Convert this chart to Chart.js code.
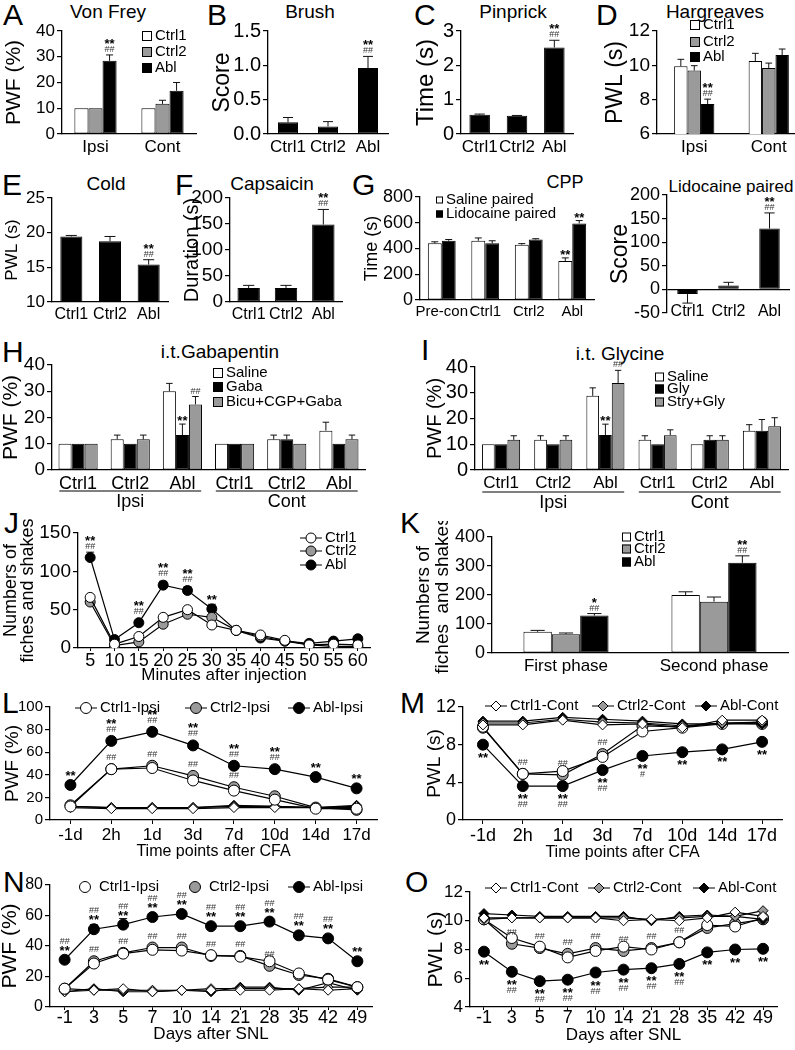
<!DOCTYPE html>
<html>
<head>
<meta charset="utf-8">
<script src="https://cdn.jsdelivr.net/npm/chart.js@4.4.1/dist/chart.umd.min.js"></script>
<style>
  html, body { margin: 0; padding: 0; background: #fff; }
  #fig { position: relative; width: 795px; height: 1050px; overflow: hidden; background: #fff;
         font-family: 'Liberation Sans', Arial, sans-serif; color: #000; }
  #fig canvas { position: absolute; }
  #fig .t { position: absolute; white-space: nowrap; line-height: 1; }
</style>
</head>
<body>
<div id="fig"></div>
<script>
// ---------- data ----------
const sideCats = ['Ipsi', 'Cont'];
const grpCats = ['Ctrl1', 'Ctrl2', 'Abl'];
const S2 = ['**', '##'];

// A Von Frey
const vfCtrl1 = [10, 10], vfCtrl1Err = [0, 0];
const vfCtrl2 = [10, 11.7], vfCtrl2Err = [0, 1.4];
const vfAbl = [28.4, 16.8], vfAblErr = [2.3, 3.2];
const vfAblNotes = [S2, null];

// B Brush
const brushVals = [0.17, 0.11, 0.96], brushErr = [0.07, 0.07, 0.17];
const brushNotes = [null, null, S2];

// C Pinprick
const pinVals = [0.56, 0.53, 2.52], pinErr = [0.02, 0.01, 0.21];
const pinNotes = [null, null, S2];

// D Hargreaves
const hgCtrl1 = [9.95, 10.25], hgCtrl1Err = [0.4, 0.45];
const hgCtrl2 = [9.7, 9.85], hgCtrl2Err = [0.28, 0.28];
const hgAbl = [7.75, 10.6], hgAblErr = [0.28, 0.35];
const hgAblNotes = [S2, null];

// E Cold
const coldVals = [19.45, 18.75, 15.4], coldErr = [0.15, 0.7, 0.7];
const coldNotes = [null, null, S2];

// F Capsaicin
const capVals = [27, 27, 149], capErr = [5, 5, 29];
const capNotes = [null, null, S2];

// G CPP
const cppCats = ['Pre-con', 'Ctrl1', 'Ctrl2', 'Abl'];
const cppSaline = [440, 460, 430, 303], cppSalineErr = [12, 22, 8, 24];
const cppLido = [460, 440, 470, 595], cppLidoErr = [10, 20, 6, 22];
const cppSalineNotes = [null, null, null, ['**']];
const cppLidoNotes = [null, null, null, ['**']];

// Lidocaine paired score
const lidoScore = [-10, 8, 129], lidoErr = [19, 7, 33];
const lidoNotes = [null, null, S2];

// H i.t. Gabapentin
const hCats = ['Ctrl1', 'Ctrl2', 'Abl', 'Ctrl1', 'Ctrl2', 'Abl'];
const gabSaline = [10, 11.7, 30, 10, 11.7, 15], gabSalineErr = [0, 1.6, 3, 0, 1.6, 3.2];
const gabGaba = [10, 10, 13.3, 10, 11.7, 10], gabGabaErr = [0, 0, 4.2, 0, 1.6, 0];
const gabBicu = [10, 11.7, 25, 10, 10, 11.7], gabBicuErr = [0, 1.6, 3, 0, 0, 1.6];
const gabGabaNotes = [null, null, ['**'], null, null, null];
const gabBicuNotes = [null, null, ['##'], null, null, null];

// I i.t. Glycine
const glySaline = [10, 11.7, 28.8, 11.7, 10, 15.2], glySalineErr = [0, 1.6, 3.1, 1.6, 0, 2.4];
const glyGly = [10, 10, 13.6, 10, 11.7, 15.2], glyGlyErr = [0, 0, 4.2, 0, 1.6, 4.4];
const glyStry = [11.7, 11.7, 33.8, 13.5, 11.7, 17], glyStryErr = [1.6, 1.6, 4.9, 2.1, 1.6, 3.3];
const glyGlyNotes = [null, null, ['**'], null, null, null];
const glyStryNotes = [null, null, ['##'], null, null, null];

// J formalin time course
const minutes = ['5', '10', '15', '20', '25', '30', '35', '40', '45', '50', '55', '60'];
const jCtrl1 = [66, 5, 15, 40, 50, 30, 23, 17, 10, 4, 5, 4];
const jCtrl2 = [60, 3, 8, 31, 44, 40, 23, 15, 9, 4, 2, 2];
const jAbl = [118, 11, 33, 82, 75, 51, 23, 13, 9, 6, 9, 12];
const jAblErr = [7, 1, 3, 5, 5, 6, 2, 1, 1, 1, 1, 1];
const jAblNotes = [S2, null, S2, S2, S2, ['**'], null, null, null, null, null, null];

// K phases
const phases = ['First phase', 'Second phase'];
const kCtrl1 = [73, 200], kCtrl1Err = [5, 11];
const kCtrl2 = [65, 177], kCtrl2Err = [4, 16];
const kAbl = [129, 311], kAblErr = [7, 24];
const kAblNotes = [['*', '##'], S2];

// L CFA, PWF ipsilateral
const cfaDays = ['-1d', '2h', '1d', '3d', '7d', '10d', '14d', '17d'];
const lCtrl1 = [12, 45, 46, 35, 26, 18, 10, 10];
const lCtrl2 = [13, 45, 48, 39, 29, 21, 11, 9];
const lAbl = [31, 70, 78, 66, 48, 45, 38, 28];
const lCtrl1Cont = [11, 10, 10, 10, 11, 11, 11, 12];
const lCtrl2Cont = [12, 11, 11, 11, 12, 12, 11, 11];
const lAblCont = [12, 11, 11, 11, 13, 12, 11, 13];
const lAblNotes = [['**'], S2, S2, S2, S2, S2, ['**'], ['**']];
const lCtrl2Notes = [null, ['##'], ['##'], ['##'], ['##'], null, null, null];

// M CFA, PWL
const mCtrl1Cont = [10.1, 10.1, 10.6, 10.1, 10.2, 9.8, 10.6, 10.6];
const mCtrl2Cont = [10.3, 10.3, 10.7, 10.4, 10.3, 10.0, 10.3, 10.4];
const mAblCont = [10.5, 10.5, 10.9, 10.7, 10.5, 10.2, 10.2, 10.2];
const mCtrl1Ipsi = [9.9, 4.9, 5.2, 6.7, 9.4, 9.8, 10.2, 10.4];
const mCtrl2Ipsi = [9.8, 4.9, 4.8, 7.0, 10.0, 9.9, 10.3, 10.2];
const mAblIpsi = [8.0, 3.6, 3.6, 5.3, 6.8, 7.2, 7.5, 8.3];
const mAblNotes = [['**'], S2, S2, S2, ['**', '#'], ['**'], ['**'], ['**']];
const mCtrl2Notes = [null, ['##'], ['##'], ['##'], null, null, null, null];

// N SNL, PWF
const snlDays = ['-1', '3', '5', '7', '10', '14', '21', '28', '35', '42', '49'];
const nCtrl1 = [12, 28.5, 35, 37.5, 37, 34, 33, 30, 22, 18, 13];
const nCtrl1Err = [1, 1, 1, 1, 1, 1, 1, 3, 1, 1, 1];
const nCtrl2 = [12, 30, 35.5, 39, 39, 33.5, 33.5, 27, 21, 18.5, 13];
const nAbl = [31, 51, 54, 59, 61, 53, 53, 56, 47, 45, 30];
const nAblErr = [1, 3, 4, 2, 1, 2, 1, 2, 2, 2, 2];
const nCtrl1Cont = [10, 11, 12, 10, 11, 11, 11, 11, 12, 11, 12];
const nCtrl2Cont = [12, 11, 11, 11, 11, 12, 12, 12, 12, 13, 13];
const nAblCont = [10, 12, 10, 10, 11, 10, 13, 13, 11, 16, 11];
const H2 = ['##', '**'];
const nAblNotes = [H2, H2, H2, H2, H2, H2, H2, H2, H2, H2, ['**']];
const nCtrl2Notes = [null, ['##'], ['##'], ['##'], ['##'], ['##'], ['##'], ['##'], null, null, null];

// O SNL, PWL
const oCtrl1Cont = [10.2, 10.2, 10.2, 10.2, 10.2, 10.0, 10.1, 10.0, 10.2, 10.6, 10.3];
const oCtrl2Cont = [10.1, 10.2, 10.2, 10.2, 10.2, 10.2, 10.1, 10.2, 10.3, 10.3, 10.7];
const oAblCont = [10.5, 10.4, 10.3, 10.3, 10.3, 10.3, 10.0, 10.3, 10.4, 10.3, 10.1];
const oCtrl1Ipsi = [10.1, 8.8, 8.2, 7.45, 7.9, 8.2, 8.0, 8.5, 9.7, 9.6, 10.2];
const oCtrl2Ipsi = [10.1, 8.4, 8.1, 7.7, 8.1, 7.9, 8.1, 8.5, 9.5, 9.8, 10.1];
const oAblIpsi = [7.85, 6.45, 5.8, 5.9, 6.4, 6.6, 6.7, 7.0, 7.8, 8.0, 8.05];
const oAblNotes = [['**'], S2, S2, S2, S2, S2, S2, S2, ['**'], ['**'], ['**']];
const oCtrl2Notes = [null, ['##'], ['##'], ['##'], ['##'], ['##'], ['##'], ['##'], null, null, null];

// ---------- setup ----------
const FONT = "'Liberation Sans', Arial, sans-serif";
const WHITE = '#ffffff', GRAY = '#9a9a9a', BLACK = '#000000';
Chart.defaults.font.family = FONT;
Chart.defaults.color = '#000';
const fig = document.getElementById('fig');

function text(s, x, base, size, align) {
  const d = document.createElement('div');
  d.className = 't';
  d.textContent = s;
  d.style.fontSize = size + 'px';
  d.style.top = (base - 0.8465 * size) + 'px';
  d.style.left = x + 'px';
  if (align === 'center') d.style.transform = 'translateX(-50%)';
  fig.appendChild(d);
}

function markFont(ctx, s) {
  if (s.includes('#')) { ctx.font = '9px ' + FONT; ctx.fillStyle = '#333'; }
  else { ctx.font = 'bold 13px ' + FONT; ctx.fillStyle = '#000'; }
}

function marker(ctx, style, x, y, r, fill) {
  ctx.beginPath();
  if (style === 'rectRot') {
    ctx.moveTo(x, y - r); ctx.lineTo(x + r, y); ctx.lineTo(x, y + r); ctx.lineTo(x - r, y); ctx.closePath();
  } else {
    ctx.arc(x, y, r, 0, Math.PI * 2);
  }
  ctx.fillStyle = fill;
  ctx.fill();
  ctx.stroke();
}

// error bars (upward, downward for negative bars)
const errorBars = {
  id: 'errorBars',
  beforeDatasetsDraw(chart) {
    const ctx = chart.ctx, ys = chart.scales.y;
    chart.data.datasets.forEach((ds, i) => {
      if (!ds.err) return;
      const meta = chart.getDatasetMeta(i);
      meta.data.forEach((el, j) => {
        const e = ds.err[j];
        if (!e) return;
        const v = ds.data[j];
        const py = ys.getPixelForValue(v < 0 ? v - e : v + e);
        const half = meta.type === 'bar' ? el.width / 4 : 4;
        ctx.save();
        ctx.strokeStyle = '#111';
        ctx.lineWidth = 1;
        ctx.beginPath();
        ctx.moveTo(el.x, el.y); ctx.lineTo(el.x, py);
        ctx.moveTo(el.x - half, py); ctx.lineTo(el.x + half, py);
        ctx.stroke();
        ctx.restore();
      });
    });
  }
};

// significance marks (** / ##)
const notes = {
  id: 'notes',
  afterDatasetsDraw(chart) {
    const ctx = chart.ctx, ys = chart.scales.y;
    chart.data.datasets.forEach((ds, i) => {
      if (!ds.notes) return;
      const meta = chart.getDatasetMeta(i);
      ds.notes.forEach((lines, j) => {
        if (!lines) return;
        const el = meta.data[j];
        const v = ds.data[j], e = ds.err ? (ds.err[j] || 0) : 0;
        ctx.save();
        ctx.textAlign = 'center';
        ctx.textBaseline = 'alphabetic';
        if (ds.notesBelow) {
          let cur = el.y + 8;
          lines.forEach(s => {
            markFont(ctx, s);
            const m = ctx.measureText(s);
            const base = cur + m.actualBoundingBoxAscent;
            ctx.fillText(s, el.x, base);
            cur = base + m.actualBoundingBoxDescent + 2;
          });
        } else {
          const cap = ys.getPixelForValue(v + e);
          let cur = (meta.type === 'bar' ? cap : Math.min(cap, el.y - 6)) - 3;
          lines.slice().reverse().forEach(s => {
            markFont(ctx, s);
            const m = ctx.measureText(s);
            const base = cur - m.actualBoundingBoxDescent;
            ctx.fillText(s, el.x, base);
            cur = base - m.actualBoundingBoxAscent - 2;
          });
        }
        ctx.restore();
      });
    });
  }
};

// hand placed legends
const keys = {
  id: 'keys',
  afterDraw(chart) {
    const ex = chart.canvas.extras;
    if (!ex || !ex.keys) return;
    const k = ex.keys, ctx = chart.ctx;
    chart.data.datasets.filter(d => d.label).forEach((d, i) => {
      const x = k.at[i][0] - ex.ox, y = k.at[i][1] - ex.oy;
      ctx.save();
      ctx.lineWidth = 1;
      ctx.strokeStyle = '#000';
      let tx;
      if (chart.config.type === 'bar') {
        const s = k.sw || 10;
        ctx.fillStyle = d.backgroundColor;
        ctx.fillRect(x, y - s / 2, s, s);
        ctx.strokeRect(x + 0.5, y - s / 2 + 0.5, s - 1, s - 1);
        tx = x + s + 3;
      } else {
        if (d.keyLine !== false) {
          ctx.beginPath(); ctx.moveTo(x, y); ctx.lineTo(x + 22, y); ctx.stroke();
        }
        marker(ctx, d.pointStyle, x + 11, y, d.pointRadius, d.pointBackgroundColor);
        tx = x + 25;
      }
      ctx.fillStyle = '#000';
      ctx.font = (k.size || 15) + 'px ' + FONT;
      ctx.textBaseline = 'middle';
      ctx.textAlign = 'left';
      ctx.fillText(d.label, tx, y);
      ctx.restore();
    });
  }
};

// Ipsi / Cont underlines, and category labels drawn by hand where needed
const groupLines = {
  id: 'groupLines',
  afterDraw(chart) {
    const ex = chart.canvas.extras;
    if (!ex) return;
    const xs = chart.scales.x, ctx = chart.ctx;
    if (ex.catLabels) {
      ctx.save();
      ctx.font = ex.catLabels.size + 'px ' + FONT;
      ctx.fillStyle = '#000';
      ctx.textAlign = 'center';
      ctx.textBaseline = 'top';
      chart.data.labels.forEach((s, i) => ctx.fillText(s, xs.getPixelForValue(i), xs.top + ex.catLabels.dy));
      ctx.restore();
    }
    if (!ex.groups) return;
    const g = ex.groups;
    const cell = (xs.right - xs.left) / chart.data.labels.length;
    g.sets.forEach(([a, b, label]) => {
      const x1 = xs.getPixelForValue(a) - cell * 0.36;
      const x2 = xs.getPixelForValue(b) + cell * 0.36;
      const yy = xs.top + g.line;
      ctx.save();
      ctx.strokeStyle = '#000';
      ctx.lineWidth = 1;
      ctx.beginPath(); ctx.moveTo(x1, yy); ctx.lineTo(x2, yy); ctx.stroke();
      ctx.font = g.size + 'px ' + FONT;
      ctx.fillStyle = '#000';
      ctx.textAlign = 'center';
      ctx.textBaseline = 'top';
      ctx.fillText(label, (x1 + x2) / 2, yy + 2);
      ctx.restore();
    });
  }
};

Chart.register(errorBars, notes, keys, groupLines);

function makeChart(p, type, datasets) {
  const [l, t, r, b] = p.area;
  const padT = 16, padR = 12;
  const cv = document.createElement('canvas');
  const ox = l - p.yw, oy = t - padT;
  cv.width = Math.round(r - l + p.yw + padR);
  cv.height = Math.round(b - t + padT + p.xh);
  cv.style.left = ox + 'px';
  cv.style.top = oy + 'px';
  cv.extras = { ox, oy, keys: p.keys, groups: p.groups, catLabels: p.catLabels };
  fig.appendChild(cv);
  const y = p.y, isLine = type === 'line';
  const yTicks = { stepSize: y.step, autoSkip: false, font: { size: y.tfont || 17 }, padding: 2, color: '#000' };
  if (y.fmt) yTicks.callback = y.fmt;
  return new Chart(cv, {
    type,
    data: { labels: p.cats, datasets },
    options: {
      responsive: false,
      animation: false,
      layout: { padding: { top: padT, right: padR, left: 0, bottom: 0 } },
      plugins: { legend: { display: false }, tooltip: { enabled: false } },
      datasets: { bar: { barPercentage: 1, categoryPercentage: p.cp || 0.6, borderWidth: 1, borderColor: '#000', borderSkipped: false } },
      scales: {
        x: {
          offset: true,
          ticks: { display: !p.catLabels, autoSkip: false, maxRotation: 0, font: { size: p.xfont || 17 }, padding: p.xpad === undefined ? 3 : p.xpad, color: '#000' },
          grid: { display: true, offset: false, drawOnChartArea: false, drawTicks: isLine, tickLength: p.xtick || 4, color: '#000' },
          border: { display: p.xborder !== false, color: '#000', width: 1.3 },
          title: { display: !!p.xtitle, text: p.xtitle || '', font: { size: p.xtsize || 17 }, padding: 0, color: '#000' },
          afterFit: s => { s.height = p.xh; }
        },
        y: {
          min: y.min, max: y.max,
          ticks: yTicks,
          grid: {
            drawOnChartArea: !!y.zero,
            color: c => (y.zero && c.tick && c.tick.value === 0) ? '#000' : 'rgba(0,0,0,0)',
            tickColor: '#000', tickLength: 5, lineWidth: 1.2
          },
          border: { color: '#000', width: 1.3 },
          title: { display: true, text: y.title, font: { size: y.size, lineHeight: y.lh || 1.2 }, padding: 0, color: '#000' },
          afterFit: s => { s.width = p.yw; }
        }
      }
    }
  });
}

function bar(label, data, fill, more) {
  return Object.assign({ label, data, backgroundColor: fill }, more);
}
function ln(label, data, fill, style, more) {
  return Object.assign({
    label, data, borderColor: '#000', borderWidth: 1.2, pointStyle: style,
    pointRadius: style === 'rectRot' ? 5 : 5.5, pointBackgroundColor: fill,
    pointBorderColor: '#000', pointBorderWidth: 1, fill: false, tension: 0
  }, more);
}

// ---------- panel letters and titles ----------
[['A', 3, 25], ['B', 207, 25], ['C', 414, 25], ['D', 596, 25],
 ['E', 2, 195], ['F', 175, 195], ['G', 352, 195],
 ['H', 2, 362], ['I', 421, 360], ['J', 4, 533], ['K', 400, 533],
 ['L', 2, 713], ['M', 400, 713], ['N', 3, 892], ['O', 405, 892]]
  .forEach(([s, x, b]) => text(s, x, b, 30));

[['Von Frey', 108, 18, 19], ['Brush', 310, 18, 19], ['Pinprick', 513, 18, 19], ['Hargreaves', 715, 18, 19],
 ['Cold', 106, 190, 19], ['Capsaicin', 272, 190, 19], ['CPP', 565, 188, 18], ['Lidocaine paired', 731, 192, 17],
 ['i.t.Gabapentin', 220, 358, 19], ['i.t. Glycine', 620, 360, 19]]
  .forEach(([s, x, b, f]) => text(s, x, b, f, 'center'));

// ---------- charts ----------
// A
makeChart({ area: [62, 31, 196, 134], yw: 60, xh: 24, cats: sideCats, cp: 0.63, xfont: 17,
  y: { min: 0, max: 40, step: 10, title: 'PWF (%)', size: 21, tfont: 17 },
  keys: { at: [[142, 36], [142, 52], [142, 68]], sw: 10 } }, 'bar', [
  bar('Ctrl1', vfCtrl1, WHITE, { err: vfCtrl1Err }),
  bar('Ctrl2', vfCtrl2, GRAY, { err: vfCtrl2Err }),
  bar('Abl', vfAbl, BLACK, { err: vfAblErr, notes: vfAblNotes })
]);

// B
makeChart({ area: [268, 31, 388, 134], yw: 59, xh: 24, cats: grpCats, cp: 0.5, xfont: 17,
  y: { min: 0, max: 1.5, step: 0.5, title: 'Score', size: 23, tfont: 20, fmt: v => v.toFixed(1) } }, 'bar', [
  bar(undefined, brushVals, BLACK, { err: brushErr, notes: brushNotes })
]);

// C
makeChart({ area: [461, 31, 573, 134], yw: 49, xh: 24, cats: grpCats, cp: 0.55, xfont: 17,
  y: { min: 0, max: 3, step: 1, title: 'Time (s)', size: 24, tfont: 20 } }, 'bar', [
  bar(undefined, pinVals, BLACK, { err: pinErr, notes: pinNotes })
]);

// D
makeChart({ area: [657, 31, 806, 134], yw: 55, xh: 24, cats: sideCats, cp: 0.54, xfont: 17,
  y: { min: 6, max: 12, step: 2, title: 'PWL (s)', size: 23, tfont: 19 },
  keys: { at: [[690, 25], [690, 42], [690, 57]], sw: 10 } }, 'bar', [
  bar('Ctrl1', hgCtrl1, WHITE, { err: hgCtrl1Err }),
  bar('Ctrl2', hgCtrl2, GRAY, { err: hgCtrl2Err }),
  bar('Abl', hgAbl, BLACK, { err: hgAblErr, notes: hgAblNotes })
]);

// E
makeChart({ area: [52, 198, 168, 302], yw: 50, xh: 24, cats: grpCats, cp: 0.57, xfont: 16,
  y: { min: 10, max: 25, step: 5, title: 'PWL (s)', size: 17, tfont: 17 } }, 'bar', [
  bar(undefined, coldVals, BLACK, { err: coldErr, notes: coldNotes })
]);

// F
makeChart({ area: [230, 198, 342, 302], yw: 50, xh: 24, cats: grpCats, cp: 0.6, xfont: 16,
  y: { min: 0, max: 200, step: 50, title: 'Duration (s)', size: 20, tfont: 19 } }, 'bar', [
  bar(undefined, capVals, BLACK, { err: capErr, notes: capNotes })
]);

// G
makeChart({ area: [420, 197, 594, 300], yw: 59, xh: 24, cats: cppCats, cp: 0.64, xfont: 15,
  y: { min: 0, max: 800, step: 200, title: 'Time (s)', size: 18, tfont: 18 },
  keys: { at: [[436, 200], [436, 214]], sw: 7 } }, 'bar', [
  bar('Saline paired', cppSaline, WHITE, { err: cppSalineErr, notes: cppSalineNotes }),
  bar('Lidocaine paired', cppLido, BLACK, { err: cppLidoErr, notes: cppLidoNotes })
]);

// Lidocaine paired score (category labels sit level with the -50 tick)
makeChart({ area: [667, 195, 790, 313], yw: 60, xh: 14, cats: grpCats, cp: 0.5, xborder: false,
  catLabels: { size: 16, dy: -9 },
  y: { min: -50, max: 200, step: 50, title: 'Score', size: 23, tfont: 18, zero: true } }, 'bar', [
  bar(undefined, lidoScore, BLACK, { err: lidoErr, notes: lidoNotes })
]);

// H
makeChart({ area: [52, 365, 365, 470], yw: 53, xh: 48, cats: hCats, cp: 0.75, xfont: 18,
  y: { min: 0, max: 40, step: 10, title: 'PWF (%)', size: 21, tfont: 19 },
  keys: { at: [[213, 373], [213, 387], [213, 402]], sw: 10 },
  groups: { sets: [[0, 2, 'Ipsi'], [3, 5, 'Cont']], line: 21, size: 18 } }, 'bar', [
  bar('Saline', gabSaline, WHITE, { err: gabSalineErr }),
  bar('Gaba', gabGaba, BLACK, { err: gabGabaErr, notes: gabGabaNotes }),
  bar('Bicu+CGP+Gaba', gabBicu, GRAY, { err: gabBicuErr, notes: gabBicuNotes })
]);

// I
makeChart({ area: [475, 367, 788, 470], yw: 52, xh: 48, cats: hCats, cp: 0.73, xfont: 17,
  y: { min: 0, max: 40, step: 10, title: 'PWF (%)', size: 20, tfont: 20 },
  keys: { at: [[655, 377], [655, 389], [655, 402]], sw: 9 },
  groups: { sets: [[0, 2, 'Ipsi'], [3, 5, 'Cont']], line: 22, size: 18 } }, 'bar', [
  bar('Saline', glySaline, WHITE, { err: glySalineErr }),
  bar('Gly', glyGly, BLACK, { err: glyGlyErr, notes: glyGlyNotes }),
  bar('Stry+Gly', glyStry, GRAY, { err: glyStryErr, notes: glyStryNotes })
]);

// J
makeChart({ area: [78, 533, 370, 648], yw: 76, xh: 38, cats: minutes, xfont: 18, xpad: -1, xtick: 3,
  xtitle: 'Minutes after injection', xtsize: 17,
  y: { min: 0, max: 150, step: 50, title: ['Numbers of', 'fiches and shakes'], size: 18, lh: 0.95, tfont: 19 },
  keys: { at: [[300, 538], [300, 551], [300, 565]] } }, 'line', [
  ln('Ctrl1', jCtrl1, WHITE, 'circle', { pointRadius: 5 }),
  ln('Ctrl2', jCtrl2, GRAY, 'circle', { pointRadius: 5 }),
  ln('Abl', jAbl, BLACK, 'circle', { pointRadius: 5, err: jAblErr, notes: jAblNotes })
]);

// K
makeChart({ area: [492, 537, 788, 653], yw: 78, xh: 30, cats: phases, cp: 0.575, xfont: 17,
  y: { min: 0, max: 400, step: 100, title: ['Numbers of', 'fiches  and shakes'], size: 19, lh: 1.0, tfont: 18 },
  keys: { at: [[622, 537], [622, 549], [622, 562]], sw: 9 } }, 'bar', [
  bar('Ctrl1', kCtrl1, WHITE, { err: kCtrl1Err }),
  bar('Ctrl2', kCtrl2, GRAY, { err: kCtrl2Err }),
  bar('Abl', kAbl, BLACK, { err: kAblErr, notes: kAblNotes })
]);

// L
makeChart({ area: [50, 707, 377, 820], yw: 49, xh: 41, cats: cfaDays, xfont: 17, xpad: 1,
  xtitle: 'Time points after CFA', xtsize: 16,
  y: { min: 0, max: 100, step: 20, title: 'PWF (%)', size: 19, tfont: 15 },
  keys: { at: [[75, 708], [185, 708], [288, 708]] } }, 'line', [
  ln('Ctrl1-Ipsi', lCtrl1, WHITE, 'circle'),
  ln('Ctrl2-Ipsi', lCtrl2, GRAY, 'circle', { notes: lCtrl2Notes }),
  ln('Abl-Ipsi', lAbl, BLACK, 'circle', { notes: lAblNotes }),
  ln(undefined, lCtrl1Cont, WHITE, 'rectRot'),
  ln(undefined, lCtrl2Cont, GRAY, 'rectRot'),
  ln(undefined, lAblCont, BLACK, 'rectRot')
]);

// M
makeChart({ area: [463, 707, 782, 820], yw: 40, xh: 42, cats: cfaDays, xfont: 18, xpad: 1,
  xtitle: 'Time points after CFA', xtsize: 16,
  y: { min: 0, max: 12, step: 4, title: 'PWL (s)', size: 19, tfont: 18 },
  keys: { at: [[485, 706], [592, 706], [695, 706]] } }, 'line', [
  ln('Ctrl1-Cont', mCtrl1Cont, WHITE, 'rectRot'),
  ln('Ctrl2-Cont', mCtrl2Cont, GRAY, 'rectRot'),
  ln('Abl-Cont', mAblCont, BLACK, 'rectRot'),
  ln(undefined, mCtrl1Ipsi, WHITE, 'circle'),
  ln(undefined, mCtrl2Ipsi, GRAY, 'circle', { notes: mCtrl2Notes }),
  ln(undefined, mAblIpsi, BLACK, 'circle', { notes: mAblNotes, notesBelow: true })
]);

// N
makeChart({ area: [50, 885, 372, 1007], yw: 52, xh: 38, cats: snlDays, xfont: 18, xpad: -3, xtick: 3,
  xtitle: 'Days after SNL', xtsize: 17,
  y: { min: 0, max: 80, step: 20, title: 'PWF (%)', size: 21, tfont: 16 },
  keys: { at: [[74, 887], [184, 887], [288, 887]] } }, 'line', [
  ln('Ctrl1-Ipsi', nCtrl1, WHITE, 'circle', { err: nCtrl1Err, keyLine: false }),
  ln('Ctrl2-Ipsi', nCtrl2, GRAY, 'circle', { notes: nCtrl2Notes, keyLine: false }),
  ln('Abl-Ipsi', nAbl, BLACK, 'circle', { err: nAblErr, notes: nAblNotes }),
  ln(undefined, nCtrl1Cont, WHITE, 'rectRot'),
  ln(undefined, nCtrl2Cont, GRAY, 'rectRot'),
  ln(undefined, nAblCont, BLACK, 'rectRot')
]);

// O
makeChart({ area: [470, 892, 777, 1007], yw: 46, xh: 39, cats: snlDays, xfont: 18, xpad: -3, xtick: 3,
  xtitle: 'Days after SNL', xtsize: 17,
  y: { min: 4, max: 12, step: 2, title: 'PWL (s)', size: 21, tfont: 17 },
  keys: { at: [[485, 888], [588, 888], [693, 888]] } }, 'line', [
  ln('Ctrl1-Cont', oCtrl1Cont, WHITE, 'rectRot'),
  ln('Ctrl2-Cont', oCtrl2Cont, GRAY, 'rectRot'),
  ln('Abl-Cont', oAblCont, BLACK, 'rectRot'),
  ln(undefined, oCtrl1Ipsi, WHITE, 'circle'),
  ln(undefined, oCtrl2Ipsi, GRAY, 'circle', { notes: oCtrl2Notes }),
  ln(undefined, oAblIpsi, BLACK, 'circle', { notes: oAblNotes, notesBelow: true })
]);
</script>
</body>
</html>
